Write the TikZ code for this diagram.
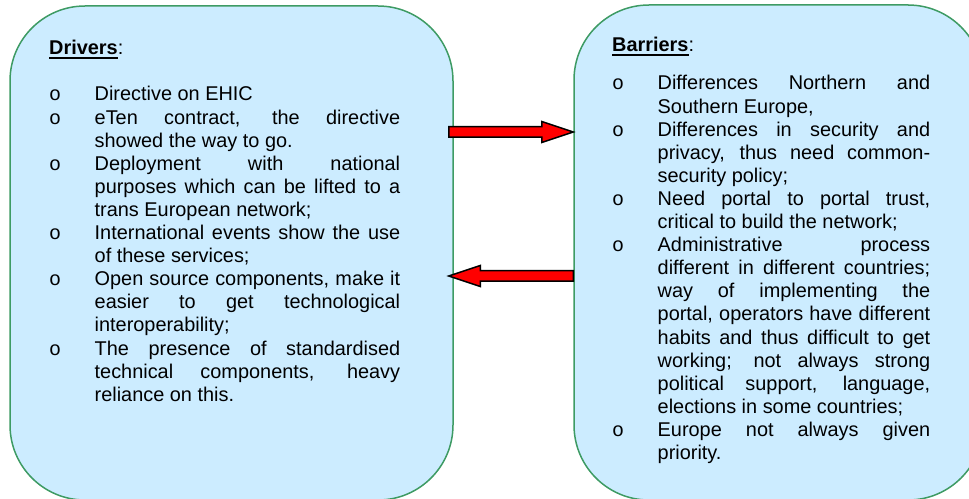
\documentclass[tikz,border=0pt]{standalone}
\usepackage{fontspec}
\setmainfont{Liberation Sans}
\newfontfamily\bulletfont{Liberation Mono}
\usetikzlibrary{calc}

\definecolor{panelblue}{RGB}{204,236,255}
\definecolor{panelgreen}{RGB}{62,155,100}
\definecolor{arrowred}{RGB}{255,0,0}

\tolerance=10000
\hyphenpenalty=10000
\hbadness=10000

\newlength{\bulletgap}
\setlength{\bulletgap}{45.5pt}
\newcommand{\bitem}{\hangindent=\bulletgap\hangafter=1\makebox[\bulletgap][l]{\bulletfont o}}
\newcommand{\headword}[1]{\setbox0\hbox{\bfseries #1}\rlap{\rule[-4.4pt]{\wd0}{1.9pt}}\box0}
\newcommand{\redarrow}[3]{%
  \draw[arrowbody] ($(#1)+(0,5.25)$) -- ($(#2)+({#3*(-31.5)},5.25)$) -- ($(#2)+({#3*(-31.5)},10.5)$)
    -- (#2) -- ($(#2)+({#3*(-31.5)},-10.5)$) -- ($(#2)+({#3*(-31.5)},-5.25)$) -- ($(#1)+(0,-5.25)$) -- cycle;}

\begin{document}
\begin{tikzpicture}[x=1pt, y=1pt,
    panel/.style={draw=panelgreen, fill=panelblue, line width=1.5pt, rounded corners=75pt},
    arrowbody/.style={draw=black, fill=arrowred, line width=1.5pt, line join=miter},
    heading/.style={anchor=base west, inner sep=0pt, font={\fontsize{19.9pt}{23.1pt}\selectfont}},
    itemlist/.style={anchor=base west, inner sep=0pt, align=justify, font={\fontsize{19.9pt}{23.1pt}\selectfont}}]
    \useasboundingbox (0,0) rectangle (969,498);
    \clip (0,0) rectangle (969,498);

    % the two panels
    \node[panel, minimum width=443pt, minimum height=494pt] (drivers) at (231.5,245) {};
    \node[panel, minimum width=409pt, minimum height=495pt] (barriers) at (778.5,245.5) {};

    % block arrows between the panels
    \coordinate (drvout) at ($(drivers.east)+(-5,121)$);
    \coordinate (barin) at (barriers.west |- drvout);
    \coordinate (barout) at ($(barriers.west)+(0,-23.5)$);
    \coordinate (drvin) at ($(drivers.east |- barout)+(-5,0)$);
    \redarrow{drvout}{barin}{1}
    \redarrow{barout}{drvin}{-1}

    % left panel text
    \node[heading] (drvhead) at (49,443) {\headword{Drivers}:};
    \node[itemlist, text width=351pt] (drvlist) at (49,397) {%
        \bitem Directive on EHIC\par
        \bitem eTen contract, the directive\linebreak showed the way to go.\par
        \bitem Deployment with national\linebreak purposes which can be lifted to a\linebreak trans European network;\par
        \bitem International events show the use\linebreak of these services;\par
        \bitem Open source components, make it\linebreak easier to get technological\linebreak interoperability;\par
        \bitem The presence of standardised\linebreak technical components, heavy\linebreak reliance on this.\par};

    % right panel text
    \node[heading] (barhead) at (612,446) {\headword{Barriers}:};
    \node[itemlist, text width=318pt] (barlist) at (612,408) {%
        \bitem Differences Northern and\linebreak Southern Europe,\par
        \bitem Differences in security and\linebreak privacy, thus need common-\linebreak security policy;\par
        \bitem Need portal to portal trust,\linebreak critical to build the network;\par
        \bitem Administrative process\linebreak different in different countries;\linebreak way of implementing the\linebreak portal, operators have different\linebreak habits and thus difficult to get\linebreak working; not always strong\linebreak political support, language,\linebreak elections in some countries;\par
        \bitem Europe not always given\linebreak priority.\par};
\end{tikzpicture}
\end{document}
